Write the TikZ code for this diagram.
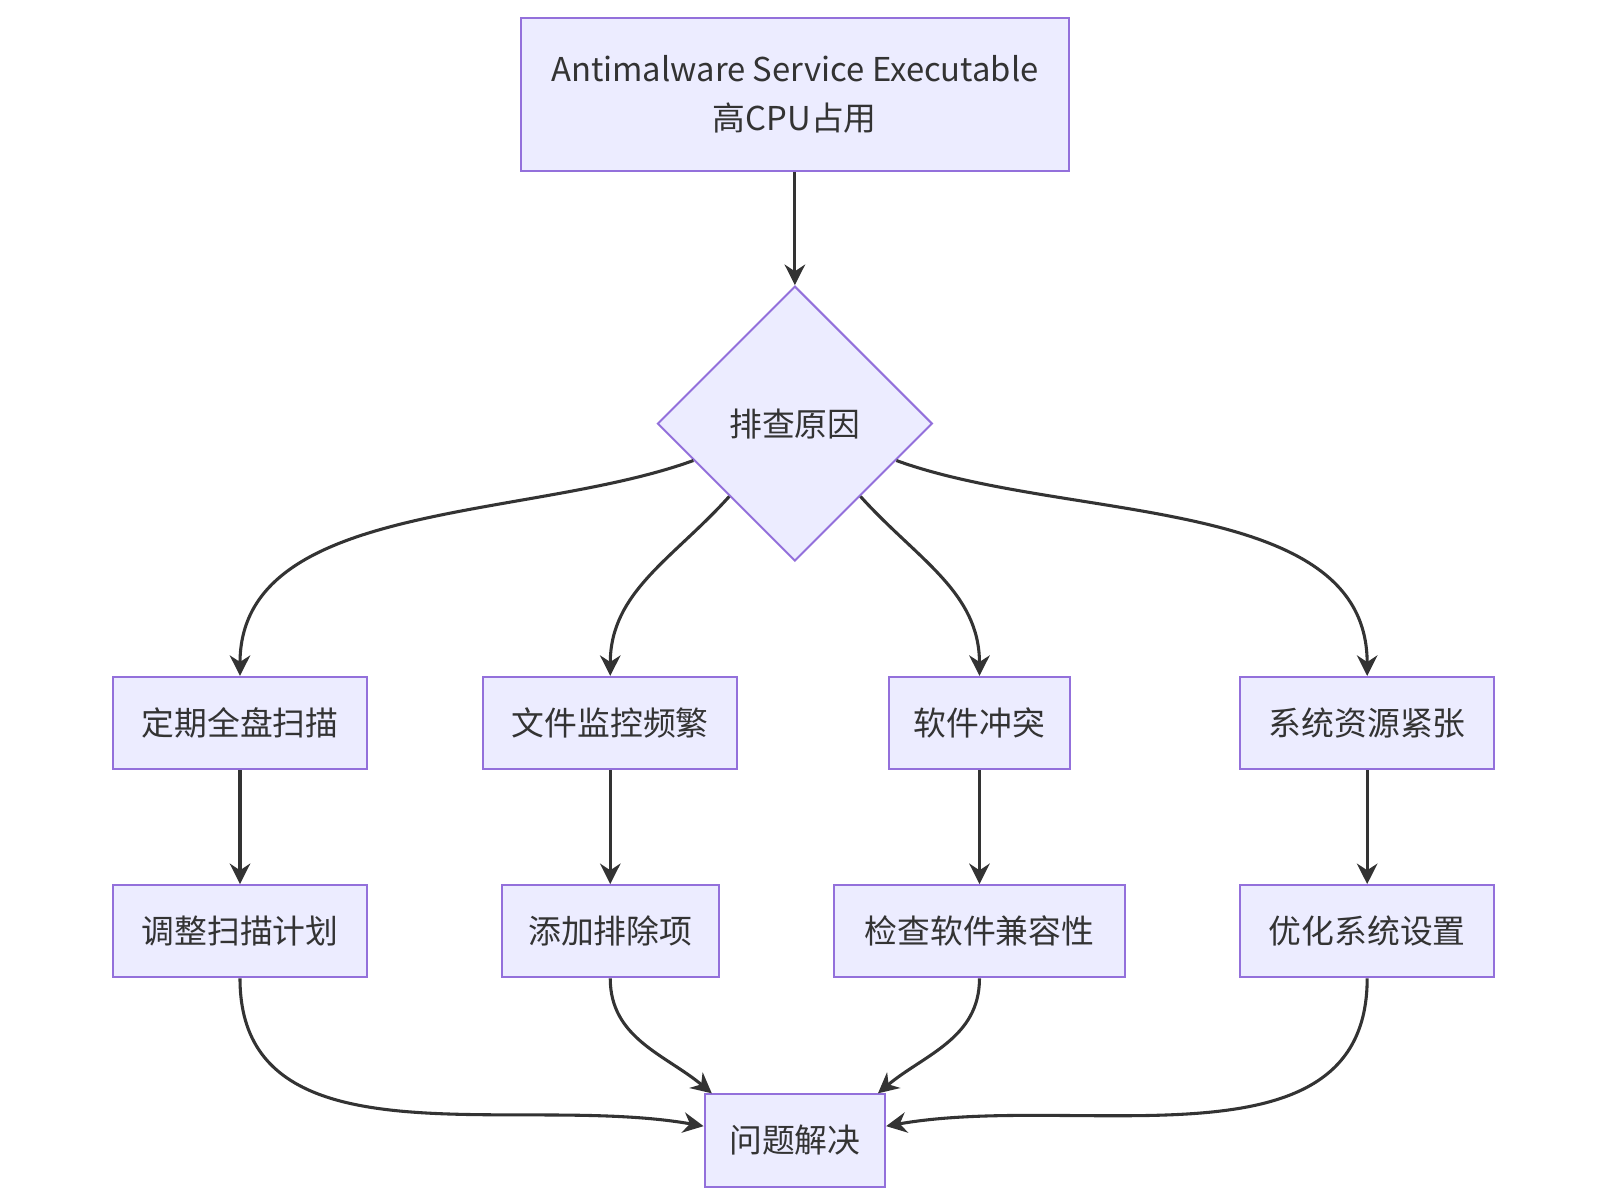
\documentclass[tikz,border=0pt]{standalone}
\usepackage{fontspec}
\setmainfont{Noto Sans CJK SC}
\usetikzlibrary{shapes.geometric,arrows.meta}
\definecolor{nf}{HTML}{ECECFF}
\definecolor{ns}{HTML}{9370DB}
\definecolor{ln}{HTML}{333333}
\begin{document}
\begin{tikzpicture}[x=0.5pt,y=-0.5pt,
  box/.style={draw=ns,fill=nf,line width=1pt,text=ln,font=\fontsize{16}{24}\selectfont,inner sep=0,align=center},
  arr/.style={draw=ln,line width=1.5pt,-{Stealth[length=10pt,width=10pt]}}]
\useasboundingbox (0,0) rectangle (1560,1170);
\node[box,minimum width=267pt,minimum height=74.5pt] (top) at (775,92) {Antimalware Service Executable\\高CPU占用};
\node[box,diamond,aspect=1,minimum width=134pt,minimum height=134pt] (dia) at (775,413) {排查原因};
\foreach \n/\x/\w/\t in {a/234/124/定期全盘扫描,b/595/124/文件监控频繁,c/955/88.5/软件冲突,d/1333/124/系统资源紧张}
  \node[box,minimum width=\w pt,minimum height=45pt] (\n) at (\x,705) {\t};
\foreach \n/\x/\w/\t in {a2/234/124/调整扫描计划,b2/595/106/添加排除项,c2/955/142/检查软件兼容性,d2/1333/124/优化系统设置}
  \node[box,minimum width=\w pt,minimum height=45pt] (\n) at (\x,908) {\t};
\node[box,minimum width=88pt,minimum height=45pt] (end) at (775,1112) {问题解决};
\draw[arr] (top) -- (dia);
\draw[arr] (dia) to[out=200,in=90,looseness=0.9] (a.north);
\draw[arr] (dia) to[out=228,in=90] (b.north);
\draw[arr] (dia) to[out=-48,in=90] (c.north);
\draw[arr] (dia) to[out=-20,in=90,looseness=0.9] (d.north);
\foreach \p/\q in {a/a2,b/b2,c/c2,d/d2} \draw[arr] (\p) -- (\q);
\draw[arr] (a2.south) to[out=-90,in=170] ([yshift=7pt]end.west);
\draw[arr] (b2.south) to[out=-90,in=140] ([xshift=4pt]end.north west);
\draw[arr] (c2.south) to[out=-90,in=40] ([xshift=-4pt]end.north east);
\draw[arr] (d2.south) to[out=-90,in=10] ([yshift=7pt]end.east);
\end{tikzpicture}
\end{document}
